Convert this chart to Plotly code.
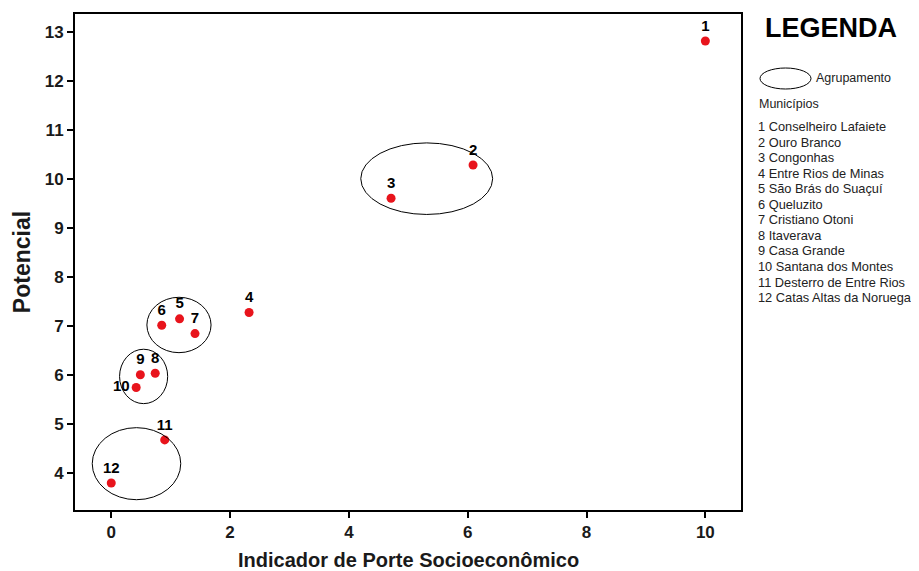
import plotly.graph_objects as go

# Data
ids = ["1", "2", "3", "4", "5", "6", "7", "8", "9", "10", "11", "12"]
porte = [10.0, 6.09, 4.71, 2.32, 1.15, 0.85, 1.41, 0.74, 0.49, 0.42, 0.90, 0.0]
potencial = [12.82, 10.29, 9.61, 7.28, 7.15, 7.02, 6.85, 6.04, 6.01, 5.75, 4.68, 3.80]
label_pos = ["top center"] * 9 + ["middle left", "top center", "top center"]
municipios = [
    "Conselheiro Lafaiete", "Ouro Branco", "Congonhas", "Entre Rios de Minas",
    "São Brás do Suaçuí", "Queluzito", "Cristiano Otoni", "Itaverava",
    "Casa Grande", "Santana dos Montes", "Desterro de Entre Rios",
    "Catas Altas da Noruega",
]
x_title = "Indicador de Porte Socioeconômico"
y_title = "Potencial"
# Grouping ellipses (x0, x1, y0, y1) in data units
agrupamentos = [
    (4.20, 6.42, 9.28, 10.74),
    (0.60, 1.68, 6.46, 7.59),
    (0.14, 0.95, 5.42, 6.53),
    (-0.32, 1.17, 3.46, 4.93),
]
x_ticks = [0, 2, 4, 6, 8, 10]
y_ticks = [4, 5, 6, 7, 8, 9, 10, 11, 12, 13]

# page body has an 8px margin
OFF = 8
W, H = 919 - 2 * OFF, 571 - OFF
L, R, T, B = 75, 741, 14, 510   # plot area in screenshot pixels

def px(x):
    return (x - L) / (R - L)

def py(y):
    return (B - y) / (B - T)

narrow = "Liberation Sans Narrow, Arial Narrow, Arial, Liberation Sans, sans-serif"
sans = "Arial, Liberation Sans, sans-serif"

fig = go.Figure()
fig.add_trace(go.Scatter(
    x=porte, y=potencial, mode="markers+text",
    text=ids, textposition=label_pos,
    textfont=dict(family=sans, size=15, color="black", weight="bold"),
    marker=dict(color="#e8141c", size=9),
    showlegend=False, cliponaxis=False,
))

shapes = []
for (x0, x1, y0, y1) in agrupamentos:
    shapes.append(dict(type="circle", xref="x", yref="y", x0=x0, x1=x1, y0=y0, y1=y1,
                       line=dict(color="black", width=1)))
# legend ellipse icon
shapes.append(dict(type="circle", xref="paper", yref="paper",
                   x0=px(760), x1=px(811), y0=py(89), y1=py(68),
                   line=dict(color="black", width=1)))

annotations = [
    dict(text=f"<b>{x_title}</b>", xref="paper", yref="paper", x=px(408), y=py(560),
         showarrow=False, xanchor="center", yanchor="middle",
         font=dict(family=narrow, size=20, color="#1a1a1a")),
    dict(text="<b>LEGENDA</b>", xref="paper", yref="paper", x=px(831), y=py(28),
         showarrow=False, xanchor="center", yanchor="middle",
         font=dict(family=sans, size=27, color="black")),
    dict(text="Agrupamento", xref="paper", yref="paper", x=px(814), y=py(78),
         showarrow=False, xanchor="left", yanchor="middle",
         font=dict(family=sans, size=12.5, color="#222")),
    dict(text="Municípios", xref="paper", yref="paper", x=px(757), y=py(104),
         showarrow=False, xanchor="left", yanchor="middle",
         font=dict(family=sans, size=12.5, color="#222")),
]
for i, (num, nome) in enumerate(zip(ids, municipios)):
    annotations.append(dict(
        text=f"{num} {nome}", xref="paper", yref="paper",
        x=px(756), y=py(127 + i * 15.5), showarrow=False,
        xanchor="left", yanchor="middle",
        font=dict(family=sans, size=12.8, color="#222")))

fig.update_layout(
    width=W, height=H,
    margin=dict(l=L - OFF, r=W - (R - OFF), t=T - OFF, b=H - (B - OFF), autoexpand=False),
    paper_bgcolor="white", plot_bgcolor="white",
    shapes=shapes, annotations=annotations,
    xaxis=dict(range=[-0.61, 10.60], tickvals=x_ticks, ticks="outside", ticklen=6,
               tickwidth=2, tickcolor="black", showgrid=False, zeroline=False,
               showline=True, linecolor="black", linewidth=2, mirror=True,
               automargin=False,
               tickfont=dict(family=narrow, size=17, color="#1a1a1a", weight="bold")),
    yaxis=dict(range=[3.25, 13.37], tickvals=y_ticks, ticks="outside", ticklen=6,
               tickwidth=2, tickcolor="black", showgrid=False, zeroline=False,
               showline=True, linecolor="black", linewidth=2, mirror=True,
               automargin=False,
               tickfont=dict(family=narrow, size=17, color="#1a1a1a", weight="bold"),
               title=dict(text=f"<b>{y_title}</b>", standoff=8,
                          font=dict(family=narrow, size=23, color="#1a1a1a"))),
)

fig.write_html("out.html")
